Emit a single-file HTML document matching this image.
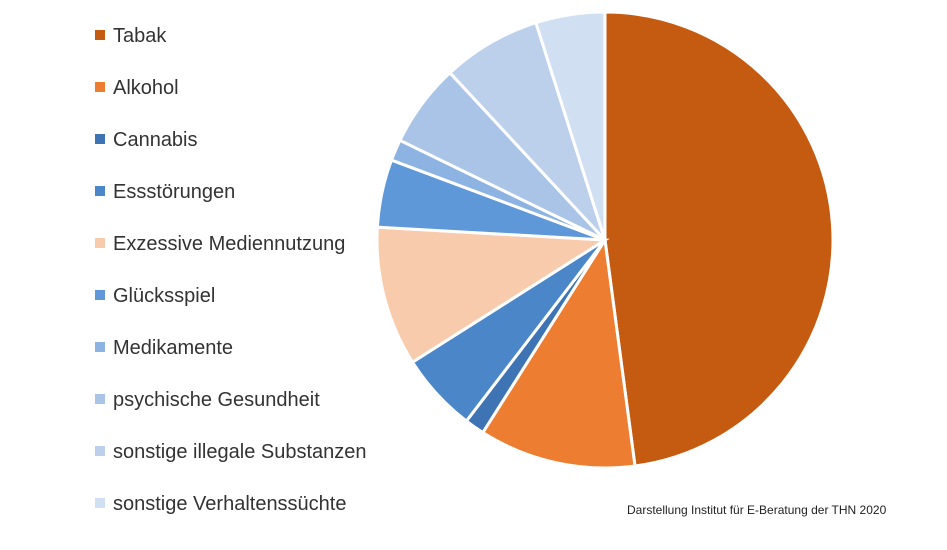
<!DOCTYPE html>
<html><head><meta charset="utf-8"><style>
body{margin:0;background:#fff;width:947px;height:545px;overflow:hidden;font-family:"Liberation Sans",sans-serif}
</style></head><body>
<svg width="947" height="545">
<g id="slices"></g><g id="legend"></g>
<text x="627" y="514" font-size="12" fill="#222">Darstellung Institut für E-Beratung der THN 2020</text>
</svg>
<script>
const categories=["Tabak","Alkohol","Cannabis","Essstörungen","Exzessive Mediennutzung","Glücksspiel","Medikamente","psychische Gesundheit","sonstige illegale Substanzen","sonstige Verhaltenssüchte"];
const values=[47.9,11.1,1.4,5.6,9.9,4.8,1.5,5.9,7.0,4.9];
const colors=["#c55a11","#ed7d31","#3e74b4","#4a86c8","#f8cbad","#5f98d8","#8db3e2","#a9c4e6","#bcd0ec","#d0dff2"];
const cx=605,cy=240,r=228,NS="http://www.w3.org/2000/svg";
const total=values.reduce((a,b)=>a+b,0);
let a0=0;const gs=document.getElementById('slices'),gl=document.getElementById('legend');
values.forEach((v,i)=>{
 const a1=a0+v/total*2*Math.PI;
 const p=(a)=>[cx+r*Math.sin(a),cy-r*Math.cos(a)];
 const [x0,y0]=p(a0),[x1,y1]=p(a1);
 const path=document.createElementNS(NS,'path');
 path.setAttribute('d',`M${cx},${cy}L${x0},${y0}A${r},${r} 0 ${a1-a0>Math.PI?1:0} 1 ${x1},${y1}Z`);
 path.setAttribute('fill',colors[i]);path.setAttribute('stroke','#fff');path.setAttribute('stroke-width','3');
 
 
 gs.appendChild(path);a0=a1;
 const y=35+i*52;
 const rc=document.createElementNS(NS,'rect');
 rc.setAttribute('x',95);rc.setAttribute('y',y-5);rc.setAttribute('width',10);rc.setAttribute('height',10);rc.setAttribute('fill',colors[i]);
 
 
 gl.appendChild(rc);
 const t=document.createElementNS(NS,'text');
 t.setAttribute('x',113);t.setAttribute('y',y+7);t.setAttribute('font-size','20');t.setAttribute('fill','#333');
 t.textContent=categories[i];
 
 
 gl.appendChild(t);
});
</script>
</body></html>
